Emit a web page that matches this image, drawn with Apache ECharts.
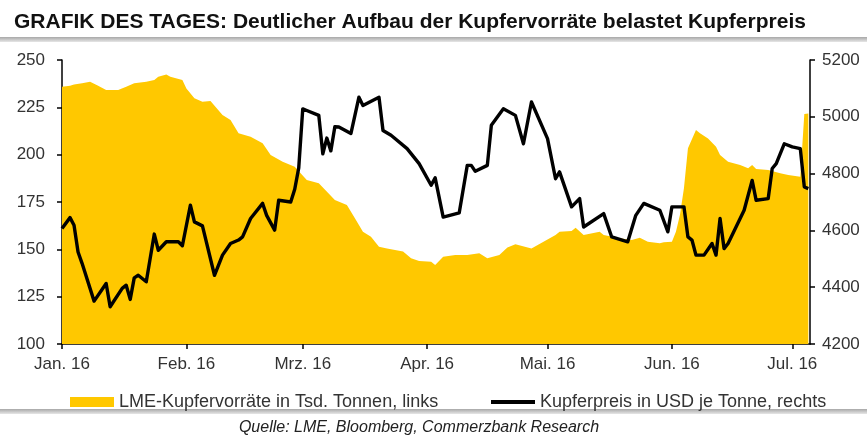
<!DOCTYPE html>
<html><head><meta charset="utf-8">
<script src="https://cdn.jsdelivr.net/npm/echarts@6/dist/echarts.min.js"></script>
<style>html,body{margin:0;padding:0;background:#fff}#c{width:867px;height:439px}</style>
</head><body><div id="c"></div>
<script>
const titleText = 'GRAFIK DES TAGES: Deutlicher Aufbau der Kupfervorräte belastet Kupferpreis';
const sourceText = 'Quelle: LME, Bloomberg, Commerzbank Research';
const stockName = 'LME-Kupfervorräte in Tsd. Tonnen, links';
const priceName = 'Kupferpreis in USD je Tonne, rechts';

const monthTicks = ['2016-01-01','2016-02-01','2016-03-01','2016-04-01','2016-05-01','2016-06-01','2016-07-01'];
const monthLabels = ['Jan. 16','Feb. 16','Mrz. 16','Apr. 16','Mai. 16','Jun. 16','Jul. 16'];

const stockDates = ['2016-01-01','2016-01-03','2016-01-04','2016-01-06','2016-01-08','2016-01-10','2016-01-12','2016-01-15','2016-01-17','2016-01-19','2016-01-22','2016-01-24','2016-01-25','2016-01-27','2016-01-28','2016-01-31','2016-02-01','2016-02-03','2016-02-05','2016-02-07','2016-02-10','2016-02-12','2016-02-14','2016-02-17','2016-02-20','2016-02-22','2016-02-25','2016-02-28','2016-03-02','2016-03-05','2016-03-09','2016-03-12','2016-03-14','2016-03-16','2016-03-18','2016-03-20','2016-03-22','2016-03-26','2016-03-28','2016-03-30','2016-04-02','2016-04-03','2016-04-05','2016-04-08','2016-04-11','2016-04-14','2016-04-16','2016-04-19','2016-04-21','2016-04-23','2016-04-27','2016-04-30','2016-05-03','2016-05-04','2016-05-07','2016-05-08','2016-05-10','2016-05-14','2016-05-15','2016-05-19','2016-05-22','2016-05-24','2016-05-26','2016-05-29','2016-05-30','2016-06-01','2016-06-02','2016-06-03','2016-06-04','2016-06-05','2016-06-07','2016-06-08','2016-06-10','2016-06-12','2016-06-13','2016-06-15','2016-06-18','2016-06-20','2016-06-21','2016-06-22','2016-06-25','2016-06-28','2016-06-30','2016-07-03','2016-07-04','2016-07-05'];
const stockValues = [235.9,236.4,237.1,237.7,238.5,236.4,234.2,234.2,235.9,237.7,238.5,239.4,241.2,242.4,241.2,239.4,235.0,229.8,228.0,228.3,221.0,218.3,211.3,209.5,206.0,199.8,196.3,193.6,186.6,184.9,176.1,173.4,166.4,159.3,156.7,151.4,150.5,148.8,145.3,143.8,143.5,141.7,146.1,147.0,147.0,147.9,145.3,147.0,151.0,152.7,150.5,154.0,157.6,159.3,159.7,161.4,157.6,159.3,157.6,155.8,154.9,156.1,154.0,153.2,153.7,154.0,159.3,168.1,182.2,203.4,213.0,211.3,208.6,204.2,199.8,196.3,194.5,192.8,194.5,192.4,191.9,190.2,189.3,188.4,221.5,221.8];

const priceDates = ['2016-01-01','2016-01-03','2016-01-04','2016-01-05','2016-01-06','2016-01-09','2016-01-12','2016-01-13','2016-01-16','2016-01-17','2016-01-18','2016-01-19','2016-01-20','2016-01-22','2016-01-24','2016-01-25','2016-01-27','2016-01-30','2016-01-31','2016-02-02','2016-02-03','2016-02-05','2016-02-08','2016-02-10','2016-02-12','2016-02-14','2016-02-15','2016-02-17','2016-02-20','2016-02-21','2016-02-23','2016-02-24','2016-02-27','2016-02-28','2016-02-29','2016-03-01','2016-03-02','2016-03-05','2016-03-06','2016-03-07','2016-03-08','2016-03-09','2016-03-10','2016-03-13','2016-03-15','2016-03-16','2016-03-20','2016-03-21','2016-03-23','2016-03-27','2016-03-30','2016-04-02','2016-04-03','2016-04-05','2016-04-09','2016-04-11','2016-04-12','2016-04-13','2016-04-16','2016-04-17','2016-04-20','2016-04-23','2016-04-25','2016-04-27','2016-05-01','2016-05-03','2016-05-04','2016-05-07','2016-05-09','2016-05-10','2016-05-15','2016-05-17','2016-05-21','2016-05-23','2016-05-25','2016-05-29','2016-05-31','2016-06-01','2016-06-04','2016-06-05','2016-06-06','2016-06-07','2016-06-09','2016-06-11','2016-06-12','2016-06-13','2016-06-14','2016-06-15','2016-06-19','2016-06-21','2016-06-22','2016-06-25','2016-06-26','2016-06-27','2016-06-29','2016-07-01','2016-07-03','2016-07-04','2016-07-05'];
const priceValues = [4607,4645,4618,4524,4484,4351,4413,4331,4396,4407,4357,4433,4442,4419,4587,4530,4560,4560,4546,4689,4630,4616,4442,4513,4554,4566,4577,4642,4695,4653,4601,4706,4700,4745,4820,5028,5022,5005,4870,4925,4880,4965,4964,4941,5069,5040,5069,4952,4935,4888,4835,4759,4785,4647,4662,4829,4829,4808,4829,4970,5028,5005,4905,5052,4923,4782,4806,4683,4712,4612,4659,4577,4560,4653,4695,4671,4595,4683,4683,4577,4566,4513,4513,4554,4513,4642,4536,4554,4671,4776,4706,4712,4818,4835,4905,4894,4888,4753,4747];

const xStart = '2016-01-01';
const xEnd = '2016-07-05 10:00';

const ts = s => echarts.time.parse(s).getTime();
const tickTimes = monthTicks.map(ts);
const chart = echarts.init(document.getElementById('c'), null, {renderer: 'canvas'});
const FONT = '"Liberation Sans", Arial, sans-serif';
const axisTxt = {color: '#333', fontSize: 17, fontFamily: FONT};

chart.setOption({
  animation: false,
  backgroundColor: '#fff',
  title: {text: titleText, left: 9, top: 7, textStyle: {fontFamily: FONT, fontSize: 21, fontWeight: 'bold', color: '#111'}},
  grid: {left: 62, right: 57, top: 60, bottom: 95, containLabel: false},
  legend: [
    {data: [{name: stockName, icon: 'rect'}], left: 65, top: 388, itemWidth: 44, itemHeight: 10, itemGap: 0,
     textStyle: {fontFamily: FONT, fontSize: 18, color: '#333'}},
    {data: [{name: priceName, icon: 'rect', itemStyle: {color: '#000'}}], left: 486, top: 388, itemWidth: 44, itemHeight: 4, itemGap: 0,
     textStyle: {fontFamily: FONT, fontSize: 18, color: '#333'}}
  ],
  xAxis: {
    type: 'value', min: ts(xStart), max: ts(xEnd),
    axisLine: {show: true, lineStyle: {color: '#000', width: 1.5}},
    axisTick: {show: true, customValues: tickTimes, length: 5, lineStyle: {color: '#000', width: 1.5}},
    axisLabel: {customValues: tickTimes, margin: 12, ...axisTxt,
      formatter: v => { const i = tickTimes.indexOf(v); return i >= 0 ? monthLabels[i] : ''; }},
    splitLine: {show: false}
  },
  yAxis: [
    {type: 'value', min: 100, max: 250, interval: 25, position: 'left',
     axisLine: {show: true, lineStyle: {color: '#000', width: 1.5}},
     axisTick: {show: true, length: 5, lineStyle: {color: '#000', width: 1.5}},
     axisLabel: {margin: 17, ...axisTxt, formatter: v => String(v)}, splitLine: {show: false}},
    {type: 'value', min: 4200, max: 5200, interval: 200, position: 'right',
     axisLine: {show: true, lineStyle: {color: '#000', width: 1.5}},
     axisTick: {show: true, length: 5, lineStyle: {color: '#000', width: 1.5}},
     axisLabel: {margin: 12, ...axisTxt, formatter: v => String(v)}, splitLine: {show: false}}
  ],
  series: [
    {name: stockName, type: 'line', yAxisIndex: 0, symbol: 'none', z: 1,
     data: stockDates.map((d, i) => [ts(d), stockValues[i]]),
     itemStyle: {color: '#FFC800'}, lineStyle: {width: 0, color: '#FFC800'},
     areaStyle: {color: '#FFC800', opacity: 1, origin: 'start'}},
    {name: priceName, type: 'line', yAxisIndex: 1, symbol: 'none', z: 3,
     data: priceDates.map((d, i) => [ts(d), priceValues[i]]),
     itemStyle: {color: '#000'}, lineStyle: {width: 3.4, color: '#000', join: 'round'}}
  ],
  graphic: [
    {type: 'rect', left: 0, top: 37, shape: {width: 867, height: 5},
     style: {fill: new echarts.graphic.LinearGradient(0,0,0,1,[{offset:0,color:'#a8a8a8'},{offset:1,color:'#e6e6e6'}])}},
    {type: 'rect', left: 0, top: 409, shape: {width: 867, height: 5},
     style: {fill: new echarts.graphic.LinearGradient(0,0,0,1,[{offset:0,color:'#a8a8a8'},{offset:1,color:'#e6e6e6'}])}},
    {type: 'text', x: 419, y: 428, style: {text: sourceText, fill: '#222', font: 'italic 16px "Liberation Sans", Arial, sans-serif', textAlign: 'center', textVerticalAlign: 'middle'}}
  ]
});
</script></body></html>
